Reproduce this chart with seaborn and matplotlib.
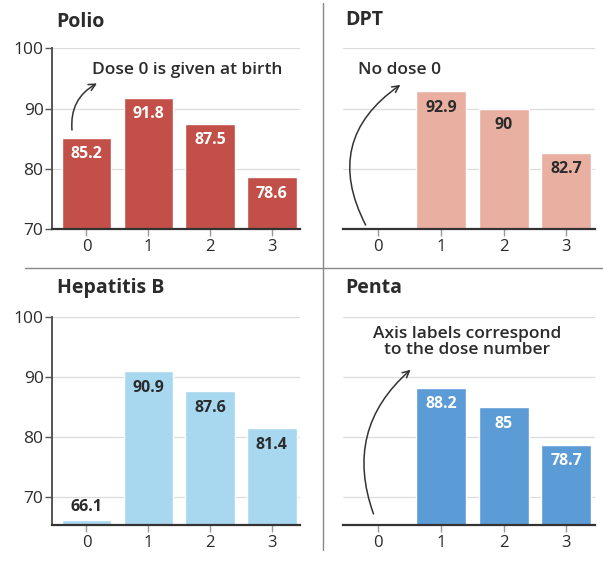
"""Vaccination coverage by dose: Polio, DPT, Hepatitis B, Penta."""

import matplotlib

matplotlib.use("Agg")
import matplotlib.pyplot as plt
import numpy as np
import seaborn as sns
from matplotlib.lines import Line2D

DOSES = ["0", "1", "2", "3"]
POLIO = [85.2, 91.8, 87.5, 78.6]
DPT = [np.nan, 92.9, 90.0, 82.7]
HEP_B = [66.1, 90.9, 87.6, 81.4]
PENTA = [np.nan, 88.2, 85.0, 78.7]
DPT_LABELS = ["", "92.9", "90", "82.7"]
PENTA_LABELS = ["", "88.2", "85", "78.7"]

TEXT = "#2b2b2b"
GRID = "#dcdcdc"

sns.set_theme(style="white")
plt.rcParams["font.family"] = ["Open Sans", "DejaVu Sans"]


def panel(ax, values, labels, color, label_color, ylim, show_y, inside=None):
    sns.barplot(x=DOSES, y=values, order=DOSES, color=color, saturation=1,
                width=0.8, errorbar=None, ax=ax, zorder=2)
    ax.set_ylim(*ylim)
    ax.set_xlim(-0.56, 3.46)
    ax.set_yticks([70, 80, 90, 100])
    ax.yaxis.grid(True, color=GRID, linewidth=0.9, zorder=0)
    ax.set_axisbelow(True)
    ax.set_xlabel("")
    ax.set_ylabel("")
    for side in ["top", "right"]:
        ax.spines[side].set_visible(False)
    ax.spines["bottom"].set_color("#333333")
    ax.spines["bottom"].set_linewidth(1.6)
    ax.spines["left"].set_visible(show_y)
    ax.spines["left"].set_color("#555555")
    ax.spines["left"].set_linewidth(1.4)
    ax.tick_params(axis="x", bottom=True, length=5, width=1, color="#999999",
                   labelsize=12, labelcolor=TEXT, pad=2)
    ax.tick_params(axis="y", left=show_y, labelleft=show_y, length=5, width=1,
                   color="#555555", labelsize=12.5, labelcolor=TEXT, pad=1)
    for i, (v, lab) in enumerate(zip(values, labels)):
        if not lab:
            continue
        if inside is not None and i in inside:
            ax.annotate(lab, (i, v), xytext=(0, 4), textcoords="offset points",
                        ha="center", va="bottom", fontsize=11.5, fontweight="bold",
                        color=TEXT)
        else:
            ax.annotate(lab, (i, v), xytext=(0, -12), textcoords="offset points",
                        ha="center", va="center", fontsize=11.5, fontweight="bold",
                        color=label_color)


fig = plt.figure(figsize=(6.03, 5.62), dpi=100)
ax_polio = fig.add_axes([0.086, 0.592, 0.412, 0.322])
ax_dpt = fig.add_axes([0.569, 0.592, 0.418, 0.322])
ax_hep = fig.add_axes([0.086, 0.066, 0.412, 0.370])
ax_penta = fig.add_axes([0.569, 0.066, 0.418, 0.370])

panel(ax_polio, POLIO, [f"{v}" for v in POLIO], "#c24f48", "white", (70, 100), True)
panel(ax_dpt, DPT, DPT_LABELS, "#e9b0a2", TEXT, (70, 100), False)
panel(ax_hep, HEP_B, [f"{v}" for v in HEP_B], "#a8d7f0", TEXT, (65.3, 100), True,
      inside=[0])
panel(ax_penta, PENTA, PENTA_LABELS, "#5b9bd6", "white", (65.3, 100), False)

# titles
title = dict(fontsize=14, fontweight="bold", color=TEXT, va="center")
fig.text(0.094, 0.961, "Polio", **title)
fig.text(0.572, 0.964, "DPT", **title)
fig.text(0.094, 0.487, "Hepatitis B", **title)
fig.text(0.572, 0.487, "Penta", **title)

# annotations
arrow = dict(arrowstyle="->", color="#333333", lw=1.1)
note = dict(fontsize=12.5, color=TEXT, fontweight="semibold")
ax_polio.annotate("", xy=(0.21, 94.4), xytext=(-0.23, 86.0),
                  arrowprops=dict(connectionstyle="arc3,rad=-0.35", **arrow))
ax_polio.text(1.63, 96.4, "Dose 0 is given at birth", ha="center", va="center", **note)
ax_dpt.annotate("", xy=(0.39, 94.2), xytext=(-0.18, 70.3),
                arrowprops=dict(connectionstyle="arc3,rad=-0.45", **arrow))
ax_dpt.text(-0.32, 96.4, "No dose 0", ha="left", va="center", **note)
ax_penta.annotate("", xy=(0.55, 91.5), xytext=(-0.06, 66.7),
                  arrowprops=dict(connectionstyle="arc3,rad=-0.35", **arrow))
ax_penta.text(1.42, 95.8, "Axis labels correspond\nto the dose number", ha="center",
              va="center", linespacing=1.05, **note)

# panel dividers
fig.add_artist(Line2D([323 / 603, 323 / 603], [1 - 3 / 562, 1 - 550 / 562],
                      color="#888888", lw=1, transform=fig.transFigure))
fig.add_artist(Line2D([25 / 603, 1.0], [1 - 268 / 562, 1 - 268 / 562],
                      color="#888888", lw=1, transform=fig.transFigure))

fig.savefig("out.png", dpi=100, facecolor="white")
